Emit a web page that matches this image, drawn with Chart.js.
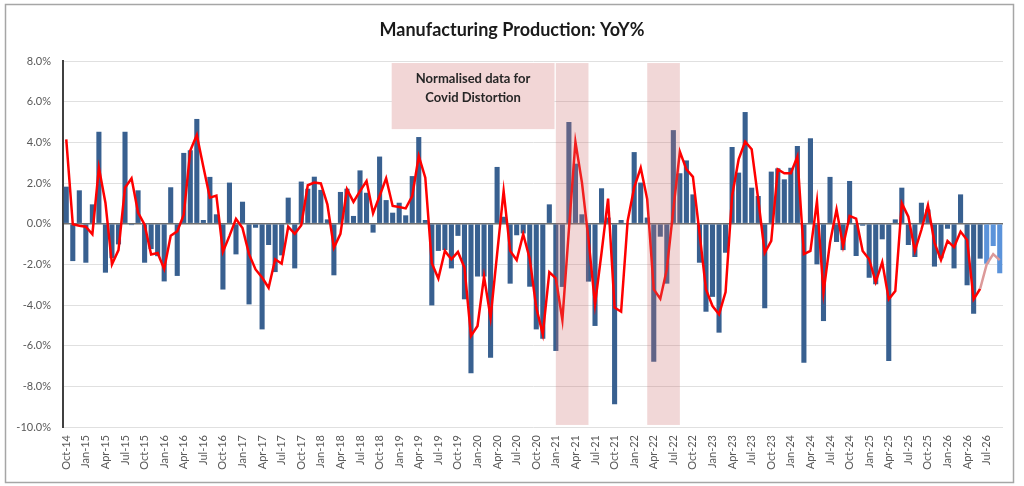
<!DOCTYPE html>
<html>
<head>
<meta charset="utf-8">
<script src="https://cdn.jsdelivr.net/npm/chart.js@4"></script>
<style>
  html, body { margin: 0; padding: 0; background: #fff; }
  #wrap { width: 1024px; height: 486px; }
</style>
</head>
<body>
<div id="wrap"><canvas id="chart" width="1024" height="486"></canvas></div>
<script>
// month categories, Oct-14 .. Sep-26
const months = [
  "Oct-14","Nov-14","Dec-14",
  "Jan-15","Feb-15","Mar-15","Apr-15","May-15","Jun-15","Jul-15","Aug-15","Sep-15","Oct-15","Nov-15","Dec-15",
  "Jan-16","Feb-16","Mar-16","Apr-16","May-16","Jun-16","Jul-16","Aug-16","Sep-16","Oct-16","Nov-16","Dec-16",
  "Jan-17","Feb-17","Mar-17","Apr-17","May-17","Jun-17","Jul-17","Aug-17","Sep-17","Oct-17","Nov-17","Dec-17",
  "Jan-18","Feb-18","Mar-18","Apr-18","May-18","Jun-18","Jul-18","Aug-18","Sep-18","Oct-18","Nov-18","Dec-18",
  "Jan-19","Feb-19","Mar-19","Apr-19","May-19","Jun-19","Jul-19","Aug-19","Sep-19","Oct-19","Nov-19","Dec-19",
  "Jan-20","Feb-20","Mar-20","Apr-20","May-20","Jun-20","Jul-20","Aug-20","Sep-20","Oct-20","Nov-20","Dec-20",
  "Jan-21","Feb-21","Mar-21","Apr-21","May-21","Jun-21","Jul-21","Aug-21","Sep-21","Oct-21","Nov-21","Dec-21",
  "Jan-22","Feb-22","Mar-22","Apr-22","May-22","Jun-22","Jul-22","Aug-22","Sep-22","Oct-22","Nov-22","Dec-22",
  "Jan-23","Feb-23","Mar-23","Apr-23","May-23","Jun-23","Jul-23","Aug-23","Sep-23","Oct-23","Nov-23","Dec-23",
  "Jan-24","Feb-24","Mar-24","Apr-24","May-24","Jun-24","Jul-24","Aug-24","Sep-24","Oct-24","Nov-24","Dec-24",
  "Jan-25","Feb-25","Mar-25","Apr-25","May-25","Jun-25","Jul-25","Aug-25","Sep-25","Oct-25","Nov-25","Dec-25",
  "Jan-26","Feb-26","Mar-26","Apr-26","May-26","Jun-26","Jul-26","Aug-26","Sep-26"
];

// monthly YoY % (bars)
const monthlyYoY = [
  1.82, -1.84, 1.64,
  -1.92, 0.95, 4.52, -2.41, -1.7, -1.02, 4.52, -0.07, 1.64, -1.92, -1.25, -1.6,
  -2.84, 1.79, -2.57, 3.48, 3.61, 5.15, 0.18, 2.30, 0.46, -3.24, 2.02, -1.51,
  1.08, -3.97, -0.2, -5.2, -1.05, -2.38, -1.56, 1.28, -2.2, 2.07, 1.72, 2.31,
  1.66, 0.21, -2.54, 1.56, 1.72, 0.38, 2.62, 1.52, -0.44, 3.3, 1.16, 0.54,
  1.03, 0.41, 2.34, 4.26, 0.18, -4.02, -1.34, -1.3, -2.2, -0.6, -3.72, -7.36,
  -2.6, -2.6, -6.6, 2.79, 0.34, -2.95, -0.57, -0.48, -3.1, -5.2, -5.66, 0.95,
  -6.26, -3.11, 5.0, 2.95, 0.46, -2.85, -5.03, 1.74, 0.3, -8.88, 0.18, 0.0,
  3.52, 2.02, 0.3, -6.79, -0.64, -2.95, 4.6, 2.48, 3.11, 1.44, -1.92, -4.33,
  -3.6, -5.36, -1.43, 3.77, 2.51, 5.49, 1.77, 1.36, -4.16, 2.56, 2.72, 2.18,
  2.75, 3.82, -6.84, 4.2, -2.0, -4.79, 2.3, -0.9, -1.3, 2.1, -1.59, -0.1,
  -2.66, -2.98, -0.77, -6.75, 0.21, 1.77, -1.05, -1.64, 1.03, 0.7, -2.11, -1.7,
  -0.25, -2.2, 1.44, -3.03, -4.43, -1.72, -1.97, -1.1, -2.44
];

// smoothed YoY % (line); from forecastLineFrom onward it is drawn pale
const smoothedYoY = [
  4.15, -0.03, -0.1,
  -0.15, -0.52, 2.75, 1.03, -2.0, -1.3, 1.77, 2.23, 0.55, -0.05, -1.52, -1.44,
  -2.23, -0.59, -0.38, 0.44, 3.6, 4.36, 2.8, 1.28, 1.38, -1.38, -0.6, 0.24,
  -0.22, -1.5, -2.25, -2.65, -3.15, -1.75, -1.97, -0.15, -0.5, -0.08, 1.89, 2.02,
  1.98, 0.95, -1.18, -0.5, 1.69, 1.07, 1.6, 2.1, 0.51, 1.36, 2.23, 0.87,
  0.82, 0.75, 1.36, 3.33, 2.26, -1.95, -2.7, -1.34, -1.75, -1.39, -2.16, -5.52,
  -5.03, -2.6, -4.62, -1.5, 1.6, -1.34, -1.79, -0.52, -1.72, -4.13, -5.44, -2.38,
  -2.69, -4.74, -0.3, 4.02, 2.02, -0.77, -3.97, -1.43, 1.23, -4.13, -4.33, 0.13,
  1.77, 2.75, 1.2, -3.23, -3.69, -2.25, 0.7, 3.54, 2.67, 2.3, -0.44, -3.23,
  -4.05, -4.46, -3.36, 1.36, 3.16, 4.03, 3.66, 1.2, -1.43, -0.85, 2.67, 2.48,
  2.48, 3.3, -1.5, -1.34, 1.11, -3.39, -0.93, 0.7, -1.1, 0.38, 0.25, -1.34,
  -1.75, -2.87, -1.89, -3.72, -3.31, 1.0, 0.34, -1.34, -0.3, 0.9, -0.93, -1.79,
  -0.85, -1.15, -0.39, -0.8, -3.72, -3.2, -2.0, -1.5, -1.79
];

const yTicks = [-10, -8, -6, -4, -2, 0, 2, 4, 6, 8];
const forecastBarsFrom = 141;   // Jul-26
const forecastLineFrom = 140;   // Jun-26
// covid windows, as [from, to] in category positions
const covidWindows = [[75, 80], [89, 94]];
const noteWindow = [49.85, 74.8];
const noteLines = ["Normalised data for", "Covid Distortion"];
const chartTitle = "Manufacturing Production: YoY%";

const decor = {
  id: 'decor',
  beforeDraw(chart) {
    const c = chart.ctx;
    c.save();
    c.fillStyle = '#ffffff';
    c.fillRect(0, 0, chart.width, chart.height);
    c.strokeStyle = '#a6a6a6';
    c.lineWidth = 1.5;
    c.strokeRect(5.5, 4.5, 1008, 478);
    c.restore();
  },
  afterDatasetsDraw(chart) {
    const c = chart.ctx;
    const x = chart.scales.x, y = chart.scales.y;
    c.save();
    // covid shading
    c.fillStyle = 'rgba(205, 110, 110, 0.28)';
    covidWindows.forEach(w => {
      const x0 = x.getPixelForValue(w[0]);
      const x1 = x.getPixelForValue(w[1]);
      const y0 = y.getPixelForValue(7.9);
      const y1 = y.getPixelForValue(-9.9);
      c.fillRect(x0, y0, x1 - x0, y1 - y0);
    });
    // note box
    const nx0 = x.getPixelForValue(noteWindow[0]);
    const nx1 = x.getPixelForValue(noteWindow[1]);
    const ny0 = y.getPixelForValue(7.9);
    const ny1 = y.getPixelForValue(4.65);
    c.fillStyle = '#f2d6d6';
    c.fillRect(nx0, ny0, nx1 - nx0, ny1 - ny0);
    c.fillStyle = '#262626';
    c.font = 'bold 13px Lato';
    c.textAlign = 'center';
    c.textBaseline = 'middle';
    const cx = (nx0 + nx1) / 2;
    c.fillText(noteLines[0], cx, ny0 + 16);
    c.fillText(noteLines[1], cx, ny0 + 35);
    // title
    c.font = 'bold 18px Lato';
    c.fillStyle = '#1a1a1a';
    c.fillText(chartTitle, 512, 30);
    c.restore();
  }
};

new Chart(document.getElementById('chart'), {
  type: 'bar',
  data: {
    labels: months,
    datasets: [
      {
        type: 'line',
        data: smoothedYoY,
        borderColor: '#ff0000',
        borderWidth: 2.5,
        pointRadius: 0,
        tension: 0,
        order: 0,
        segment: {
          borderColor: ctx => ctx.p0DataIndex >= forecastLineFrom ? '#dc9a9a' : '#ff0000'
        }
      },
      {
        type: 'bar',
        data: monthlyYoY,
        backgroundColor: ctx => ctx.dataIndex >= forecastBarsFrom ? '#5b93da' : '#386090',
        barPercentage: 0.78,
        categoryPercentage: 1.0,
        order: 1
      }
    ]
  },
  options: {
    responsive: false,
    devicePixelRatio: 1,
    animation: false,
    layout: { padding: { left: 5, right: 21, top: 61, bottom: 8 } },
    plugins: {
      legend: { display: false },
      tooltip: { enabled: false },
      title: { display: false }
    },
    scales: {
      x: {
        grid: { display: false, drawTicks: false },
        border: { display: false },
        ticks: {
          autoSkip: false,
          maxRotation: 90,
          minRotation: 90,
          padding: 8,
          color: '#595959',
          font: { family: 'Lato', size: 11 },
          callback: (v, i) => i % 3 === 0 ? months[i] : ''
        },
        afterFit: s => { s.height = 51; }
      },
      y: {
        min: -10,
        max: 8,
        afterBuildTicks: s => { s.ticks = yTicks.map(v => ({ value: v })); },
        grid: {
          drawTicks: false,
          color: ctx => ctx.tick.value === 0 ? '#6e6e6e' : '#e0e0e0',
          lineWidth: ctx => ctx.tick.value === 0 ? 1.5 : 1
        },
        border: { display: true, color: '#404040', width: 2 },
        ticks: {
          padding: 12,
          color: '#595959',
          font: { family: 'Lato', size: 11 },
          callback: v => v.toFixed(1) + '%'
        },
        afterFit: s => { s.width = 58; }
      }
    }
  },
  plugins: [decor]
});
</script>
</body>
</html>
